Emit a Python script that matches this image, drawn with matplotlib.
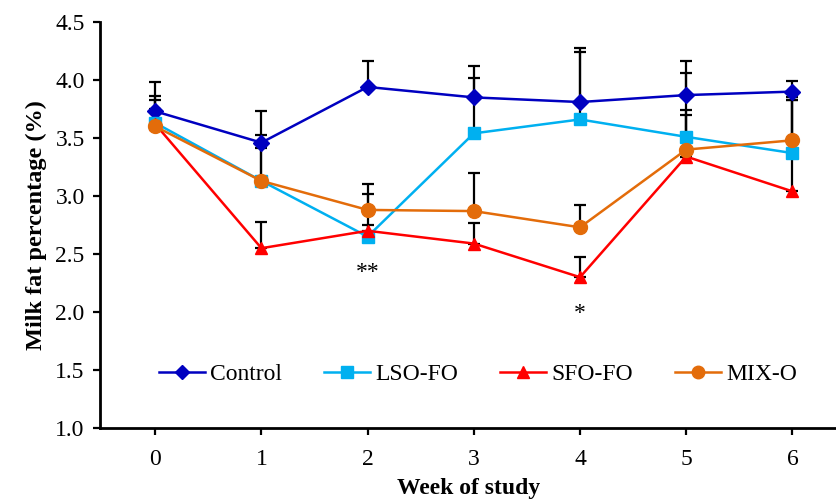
import matplotlib
matplotlib.use("Agg")
import matplotlib.pyplot as plt

plt.rcParams['font.family'] = ['Liberation Serif', 'DejaVu Serif']

weeks = [0, 1, 2, 3, 4, 5, 6]
control = [3.73, 3.46, 3.94, 3.85, 3.81, 3.87, 3.90]
lso_fo = [3.63, 3.13, 2.65, 3.54, 3.66, 3.51, 3.37]
sfo_fo = [3.62, 2.55, 2.70, 2.59, 2.30, 3.34, 3.04]
mix_o = [3.60, 3.13, 2.88, 2.87, 2.73, 3.40, 3.48]

# upper error only
control_err = [0.25, 0.27, 0.22, 0.27, 0.47, 0.29, 0.09]
lso_err = [0.23, 0.40, 0.10, 0.48, 0.58, 0.55, 0.48]
sfo_err = [0.21, 0.23, 0.32, 0.18, 0.17, 0.40, 0.79]
mix_err = [0.15, 0.28, 0.22, 0.33, 0.19, 0.30, 0.35]

series = [
    ("Control", control, control_err, "#0000C0", "D", 8),
    ("LSO-FO", lso_fo, lso_err, "#00B0F0", "s", 9),
    ("SFO-FO", sfo_fo, sfo_err, "#FF0000", "^", 9),
    ("MIX-O", mix_o, mix_err, "#E36C0A", "o", 10),
]

fig = plt.figure(figsize=(8.37, 5.01), dpi=100)
ax = fig.add_axes([100/837, 1-428/501, 1-100/837, (428-22)/501])

# error bars first (behind lines)
for name, vals, err, col, mk, ms in series:
    ax.errorbar(weeks, vals, yerr=[[0]*len(err), err], fmt='none',
                ecolor='black', elinewidth=1.6, capsize=4.5, capthick=1.6, zorder=1)
for name, vals, err, col, mk, ms in series:
    ax.plot(weeks, vals, color=col, marker=mk, markersize=ms, linewidth=1.8,
            label=name, zorder=2)

ax.text(2, 2.34, "**", ha='center', va='center', fontsize=17)
ax.text(4, 1.99, "*", ha='center', va='center', fontsize=17)

ax.set_xlim(-0.52, 6.42)
ax.set_ylim(1.0, 4.5)
ax.set_xticks(weeks)
ax.set_yticks([1.0, 1.5, 2.0, 2.5, 3.0, 3.5, 4.0, 4.5])
ax.set_yticklabels(["1.0", "1.5", "2.0", "2.5", "3.0", "3.5", "4.0", "4.5"])
ax.tick_params(axis='both', labelsize=17, direction='out', length=5, width=1.6)
ax.tick_params(axis='x', pad=10)
ax.tick_params(axis='y', pad=6)
ax.spines['top'].set_visible(False)
ax.spines['right'].set_visible(False)
ax.spines['left'].set_linewidth(2)
ax.spines['bottom'].set_linewidth(2)

ax.set_xlabel("Week of study", fontsize=17, fontweight='bold', labelpad=6)
ax.set_ylabel("Milk fat percentage (%)", fontsize=17.5, fontweight='bold', labelpad=6)

ax.legend(loc='center', bbox_to_anchor=(0.513, 0.133), ncol=4, frameon=False,
          fontsize=17, handlelength=1.95, handletextpad=0.25, columnspacing=1.75,
          markerscale=0.9)

fig.savefig("out.png", dpi=100)
